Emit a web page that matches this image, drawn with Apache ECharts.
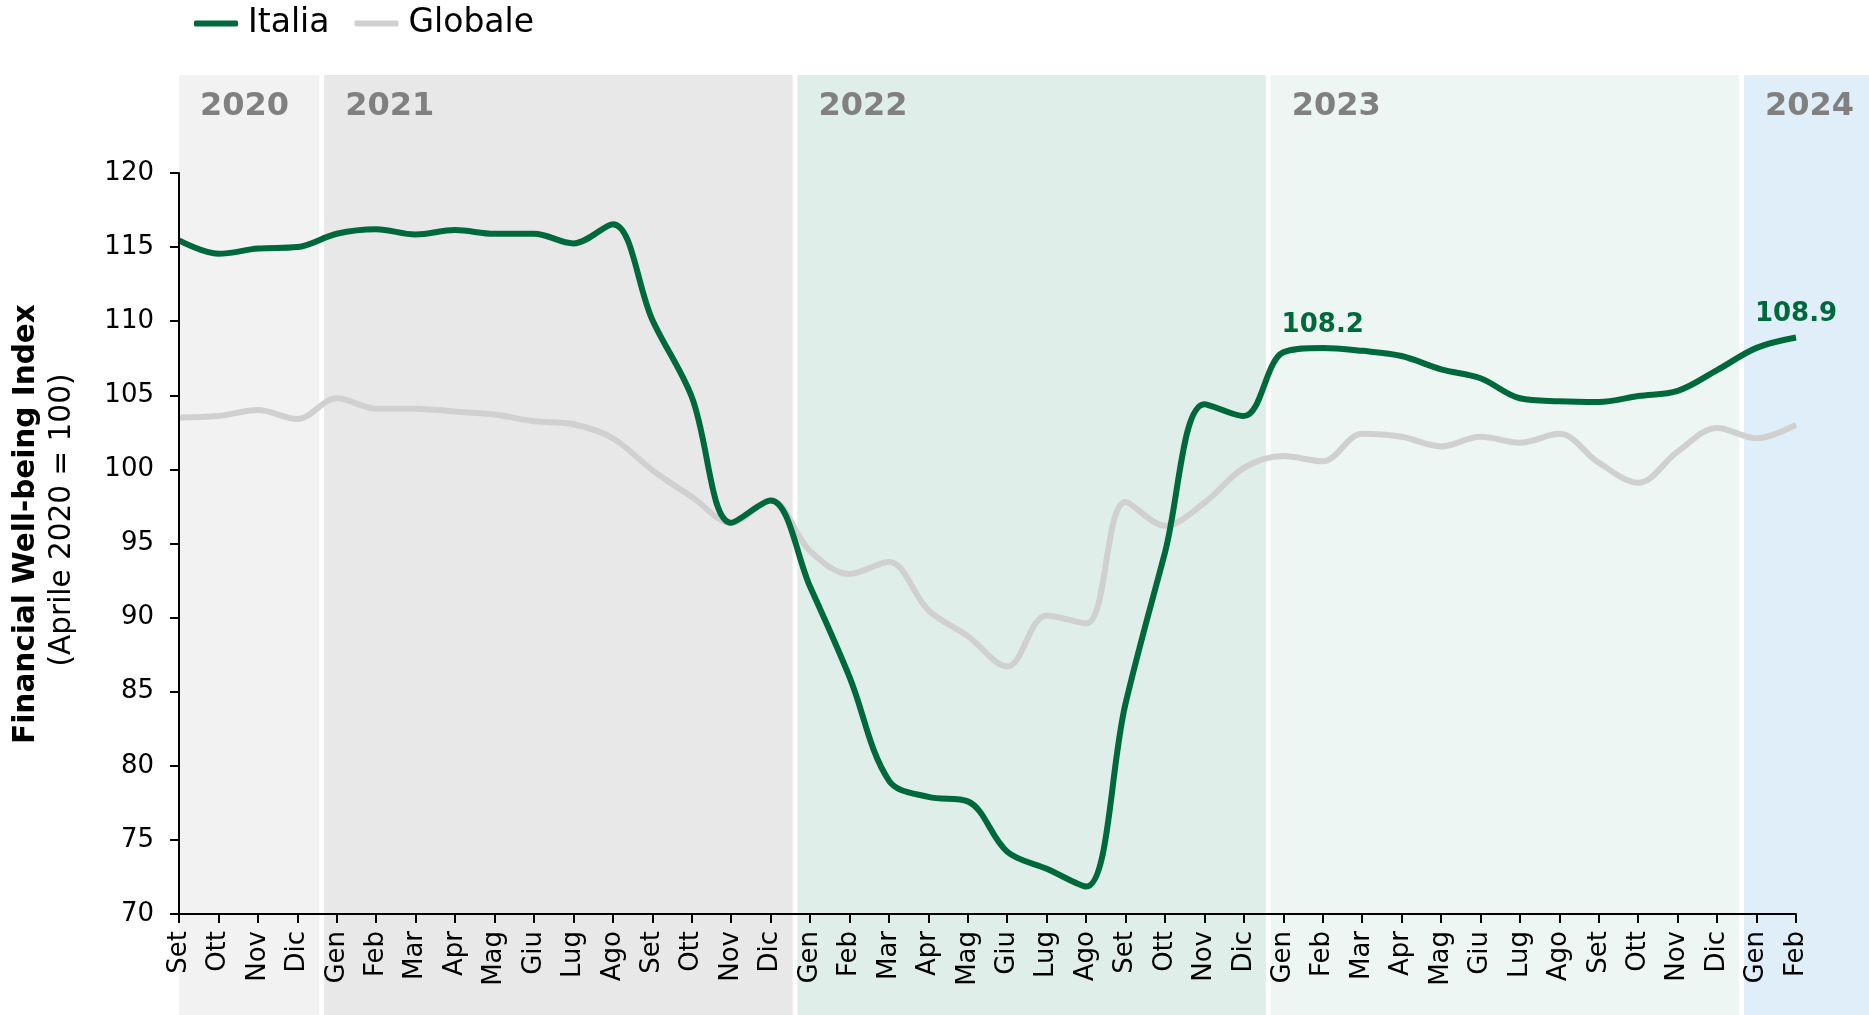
<!DOCTYPE html>
<html>
<head>
<meta charset="utf-8">
<script src="https://cdn.jsdelivr.net/npm/echarts@6.0.0/dist/echarts.min.js"></script>
<style>
  html, body { margin: 0; padding: 0; background: #fff; }
  #chart { width: 1869px; height: 1015px; }
</style>
</head>
<body>
<div id="chart"></div>
<script>
// months from Set 2020 to Feb 2024
var months = [
  'Set', 'Ott', 'Nov', 'Dic',
  'Gen', 'Feb', 'Mar', 'Apr', 'Mag', 'Giu', 'Lug', 'Ago', 'Set', 'Ott', 'Nov', 'Dic',
  'Gen', 'Feb', 'Mar', 'Apr', 'Mag', 'Giu', 'Lug', 'Ago', 'Set', 'Ott', 'Nov', 'Dic',
  'Gen', 'Feb', 'Mar', 'Apr', 'Mag', 'Giu', 'Lug', 'Ago', 'Set', 'Ott', 'Nov', 'Dic',
  'Gen', 'Feb'
];

var italia = [
  115.45, 114.55, 114.9, 115.0,
  115.9, 116.2, 115.85, 116.15, 115.9, 115.9, 115.25, 116.55, 110.1, 104.9, 96.4, 97.9,
  92.1, 86.0, 79.0, 77.9, 77.6, 74.2, 73.05, 71.85, 84.2, 94.4, 104.4, 103.6,
  107.9, 108.2, 108.0, 107.65, 106.75, 106.15, 104.8, 104.6, 104.55, 104.95, 105.3, 106.7,
  108.2, 108.9
];

var globale = [
  103.5, 103.6, 104.0, 103.4,
  104.8, 104.1, 104.1, 103.9, 103.7, 103.25, 103.05, 102.1, 99.95, 98.15, 96.4, 97.9,
  94.5, 92.95, 93.75, 90.5, 88.75, 86.7, 90.15, 89.6, 97.8, 96.2, 97.75, 100.1,
  100.9, 100.55, 102.4, 102.2, 101.55, 102.2, 101.8, 102.4, 100.45, 99.1, 101.2, 102.8,
  102.1, 103.0
];

var yearNames = ['2020', '2021', '2022', '2023', '2024'];
var yearFirst = [0, 4, 16, 28, 40];   // index of the first month of each year
var labelledPoints = [29, 41];        // Feb 2023, Feb 2024

var FONT = 'DejaVu Sans';
var GREEN = '#00693c';
var GREY_LINE = '#d0d0d0';
var bandColors = ['#f2f2f2', '#e8e8e8', '#dfeee8', '#edf6f2', '#dfeef8'];

var gridLeft = 179, gridRight = 73;

var chart = echarts.init(document.getElementById('chart'));

// the band grid runs to the right edge, so stretch its scale to keep months aligned
var plotW = chart.getWidth() - gridLeft - gridRight;
var bandMax = (months.length - 1) * (chart.getWidth() - gridLeft) / plotW;

var bands = yearNames.map(function (name, k) {
  var from = k === 0 ? 0 : yearFirst[k] - 0.32;
  var to = k === yearNames.length - 1 ? bandMax : yearFirst[k + 1] - 1 + 0.56;
  return [
    { name: name, xAxis: from, itemStyle: { color: bandColors[k] } },
    { xAxis: to }
  ];
});

var italiaData = italia.map(function (v, i) {
  return labelledPoints.indexOf(i) >= 0 ? { value: v, label: { show: true } } : v;
});

var option = {
  animation: false,
  textStyle: { fontFamily: FONT },
  legend: {
    data: ['Italia', 'Globale'],
    left: 189,
    top: 2,
    icon: 'roundRect',
    itemWidth: 44,
    itemHeight: 6,
    itemGap: 25,
    textStyle: { fontFamily: FONT, fontSize: 33, color: '#000', padding: [0, 0, 0, 5] }
  },
  grid: [
    { left: gridLeft, right: gridRight, top: 173, bottom: 101 },
    { left: gridLeft, right: 0, top: 75, bottom: 0 }
  ],
  xAxis: [
    {
      type: 'category',
      data: months,
      boundaryGap: false,
      z: 5,
      axisLine: { lineStyle: { color: '#000', width: 2 } },
      axisTick: { show: true, interval: 0, length: 9, lineStyle: { color: '#000', width: 2 } },
      axisLabel: { interval: 0, rotate: 90, margin: 17, fontSize: 26, color: '#000', fontFamily: FONT },
      splitLine: { show: false }
    },
    {
      type: 'value',
      gridIndex: 1,
      min: 0,
      max: bandMax,
      show: false
    }
  ],
  yAxis: [
    {
      type: 'value',
      min: 70,
      max: 120,
      interval: 5,
      z: 5,
      axisLine: { show: true, lineStyle: { color: '#000', width: 2 } },
      axisTick: { show: true, length: 9, lineStyle: { color: '#000', width: 2 } },
      axisLabel: { margin: 25, fontSize: 26, color: '#000', fontFamily: FONT },
      splitLine: { show: false }
    },
    {
      type: 'value',
      gridIndex: 1,
      min: 0,
      max: 1,
      show: false
    }
  ],
  graphic: [
    {
      type: 'text',
      x: 26,
      y: 524,
      rotation: Math.PI / 2,
      silent: true,
      style: {
        text: 'Financial Well-being Index',
        font: 'bold 29.5px "DejaVu Sans"',
        fill: '#000',
        align: 'center',
        verticalAlign: 'middle'
      }
    },
    {
      type: 'text',
      x: 62,
      y: 520,
      rotation: Math.PI / 2,
      silent: true,
      style: {
        text: '(Aprile 2020 = 100)',
        font: '29.5px "DejaVu Sans"',
        fill: '#000',
        align: 'center',
        verticalAlign: 'middle'
      }
    }
  ],
  series: [
    {
      name: 'bands',
      type: 'line',
      xAxisIndex: 1,
      yAxisIndex: 1,
      data: [[0, 0]],
      symbol: 'none',
      lineStyle: { opacity: 0 },
      silent: true,
      z: 0,
      markArea: {
        silent: true,
        z: 0,
        label: {
          show: true,
          position: [21, 32],
          align: 'left',
          verticalAlign: 'middle',
          fontFamily: FONT,
          fontSize: 32,
          fontWeight: 'bold',
          color: '#808080'
        },
        data: bands
      }
    },
    {
      name: 'Globale',
      type: 'line',
      data: globale,
      smooth: 0.35,
      symbol: 'none',
      z: 3,
      color: GREY_LINE,
      lineStyle: { color: GREY_LINE, width: 6 }
    },
    {
      name: 'Italia',
      type: 'line',
      data: italiaData,
      smooth: 0.35,
      symbol: 'circle',
      symbolSize: 0,
      showSymbol: true,
      z: 4,
      color: GREEN,
      lineStyle: { color: GREEN, width: 6 },
      label: {
        show: false,
        position: 'top',
        distance: 10,
        fontFamily: FONT,
        fontSize: 26,
        fontWeight: 'bold',
        color: GREEN,
        formatter: function (p) { return p.value.toFixed(1); }
      }
    }
  ]
};

chart.setOption(option);
</script>
</body>
</html>
